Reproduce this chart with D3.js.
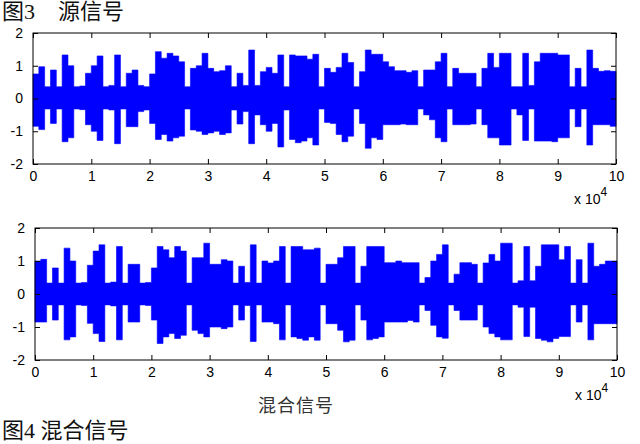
<!DOCTYPE html>
<html>
<head>
<meta charset="utf-8">
<title>源信号 / 混合信号</title>
<script src="https://d3js.org/d3.v7.min.js"></script>
<style>
	body{
		margin:0;
		background-color:#fff;
	}
	.tick text{
		font-family:"Liberation Sans Narrow","Liberation Sans",sans-serif;
		font-size:14px;
		fill:#000;
	}
	.tick line{
		stroke:#000;
	}
	.caption{
		font-family:"Liberation Serif","Noto Sans CJK SC",serif;
		font-size:22px;
		fill:#111;
	}
	.scale{
		font-family:"Liberation Sans Narrow","Liberation Sans",sans-serif;
		font-size:14px;
	}
</style>
</head>
<body>
<div class="screen"></div>
<script>

//DATA (envelope of each signal, one value per 1000 samples)

var xTicks = [0,10000,20000,30000,40000,50000,60000,70000,80000,90000,100000];
var xTickLabels = ["0","1","2","3","4","5","6","7","8","9","10"];
var yTicks = [-2,-1,0,1,2];
var yTickLabels = ["-2","-1","0","1","2"];

var sourceUpper = [0.75,0.97,0.36,0.87,0.36,1.33,1.0,0.36,0.38,0.77,
	1.0,1.3,0.36,0.4,1.33,0.36,0.77,0.87,0.4,0.36,
	0.75,1.43,1.23,1.38,1.3,1.12,0.36,0.92,1.0,1.38,
	0.92,0.82,0.85,1.0,0.36,0.77,0.4,1.48,0.4,0.82,
	0.95,0.77,1.33,0.36,1.33,1.3,1.3,1.2,1.35,0.36,
	0.92,0.8,0.95,1.38,1.1,0.36,0.82,1.48,1.35,1.35,
	1.12,0.97,0.85,0.85,0.8,0.85,0.36,0.87,0.87,1.12,
	1.38,0.36,0.92,0.77,0.77,0.77,0.36,0.92,1.38,0.95,
	1.38,1.38,0.36,0.36,1.38,0.4,1.12,1.38,1.38,1.38,
	1.33,1.33,0.36,0.92,0.36,1.48,0.92,0.83,0.85,0.83];

var sourceLower = [-0.85,-0.95,-0.32,-0.76,-0.32,-1.32,-1.2,-0.32,-0.34,-0.8,
	-1.0,-1.28,-0.32,-0.35,-1.38,-0.32,-0.86,-0.86,-0.4,-0.35,
	-0.76,-1.25,-1.1,-1.3,-1.2,-1.15,-0.32,-0.96,-1.0,-1.1,
	-1.05,-1.0,-1.1,-1.05,-0.35,-0.78,-0.4,-1.38,-0.5,-0.8,
	-1.0,-0.76,-1.48,-0.35,-1.25,-1.35,-1.3,-1.2,-1.42,-0.32,
	-0.73,-0.76,-1.1,-1.32,-1.15,-0.32,-0.76,-1.52,-1.2,-1.25,
	-0.8,-0.8,-0.8,-0.78,-0.8,-0.8,-0.32,-0.5,-0.65,-1.2,
	-1.32,-0.32,-0.8,-0.8,-0.8,-0.78,-0.32,-0.8,-1.2,-1.2,
	-1.42,-1.42,-0.32,-0.5,-1.28,-0.32,-1.3,-1.3,-1.3,-1.32,
	-1.2,-1.2,-0.32,-0.86,-0.32,-1.42,-0.8,-0.8,-0.8,-0.85];

var mixedUpper = [1.0,1.05,0.33,0.79,0.33,1.39,1.0,0.33,0.35,0.87,
	1.3,1.49,0.33,0.36,1.44,0.33,0.9,0.9,0.33,0.35,
	0.79,1.44,1.34,1.1,1.44,1.3,0.33,1.1,1.1,1.54,
	0.9,0.9,1.04,1.0,0.33,0.84,0.35,1.49,0.33,1.0,
	0.94,1.0,1.44,0.33,1.44,1.44,1.34,1.34,1.39,0.33,
	0.9,0.9,1.1,1.44,1.44,0.33,0.84,1.44,1.44,1.44,
	0.95,0.95,1.0,0.95,0.95,0.95,0.33,0.5,1.0,1.2,
	1.49,0.33,0.6,0.95,0.95,0.9,0.33,0.94,1.2,1.0,
	1.54,1.54,0.33,0.4,1.44,0.4,0.84,1.49,1.49,1.49,
	1.04,1.44,0.33,1.04,0.33,1.54,0.84,0.9,1.0,1.0];

var mixedLower = [-0.85,-0.85,-0.33,-0.79,-0.33,-1.39,-1.3,-0.33,-0.35,-0.89,
	-1.2,-1.44,-0.33,-0.36,-1.39,-0.33,-0.85,-0.85,-0.33,-0.35,
	-0.79,-1.5,-1.3,-1.2,-1.35,-1.25,-0.33,-1.1,-1.2,-1.3,
	-1.0,-1.0,-1.05,-1.0,-0.33,-0.79,-0.35,-1.44,-0.33,-0.85,
	-0.85,-0.9,-1.39,-0.33,-1.3,-1.35,-1.4,-1.3,-1.4,-0.33,
	-0.9,-0.9,-1.1,-1.45,-1.4,-0.33,-0.79,-1.39,-1.35,-1.3,
	-0.85,-0.85,-0.85,-0.85,-0.8,-0.85,-0.33,-0.5,-0.95,-1.3,
	-1.34,-0.33,-0.5,-0.79,-0.79,-0.79,-0.33,-1.0,-1.2,-1.3,
	-1.39,-1.39,-0.33,-0.4,-1.29,-0.4,-1.35,-1.4,-1.45,-1.35,
	-1.29,-1.29,-0.33,-0.85,-0.33,-1.39,-0.9,-0.9,-0.9,-0.9];

var step = 1000;

//SETUP

var width = 640;
var height = 444;

var svg = d3.select(".screen")
	.append("svg")
	.attr("width", width)
	.attr("height", height);

//PANEL DRAWING

function drawPanel(box, upper, lower) {
	var x = d3.scaleLinear().domain([0,100000]).range([box.left, box.right]);
	var y = d3.scaleLinear().domain([-2,2]).range([box.bottom, box.top]);

	var g = svg.append("g");

	var pts = upper.map(function(u,i){ return {i:i, u:u, l:lower[i]}; });
	pts.push({i:upper.length, u:upper[upper.length-1], l:lower[lower.length-1]});

	var area = d3.area()
		.curve(d3.curveStepAfter)
		.x(function(d){ return x(d.i*step); })
		.y0(function(d){ return y(d.l); })
		.y1(function(d){ return y(d.u); });

	g.append("path")
		.datum(pts)
		.attr("fill", "#0000ff")
		.attr("stroke", "#0000ff")
		.attr("stroke-width", 0.6)
		.attr("d", area);

	g.append("g")
		.attr("transform", "translate(0," + box.bottom + ")")
		.call(d3.axisBottom(x).tickValues(xTicks)
			.tickFormat(function(d,i){ return xTickLabels[i]; })
			.tickSize(-5).tickPadding(7));

	g.append("g")
		.attr("transform", "translate(0," + box.top + ")")
		.call(d3.axisTop(x).tickValues(xTicks).tickFormat("").tickSize(-5));

	g.append("g")
		.attr("transform", "translate(" + box.left + ",0)")
		.call(d3.axisLeft(y).tickValues(yTicks)
			.tickFormat(function(d,i){ return yTickLabels[i]; })
			.tickSize(-5).tickPadding(10));

	g.append("g")
		.attr("transform", "translate(" + box.right + ",0)")
		.call(d3.axisRight(y).tickValues(yTicks).tickFormat("").tickSize(-5));

	g.selectAll(".domain").remove();

	g.append("rect")
		.attr("x", box.left)
		.attr("y", box.top)
		.attr("width", box.right - box.left)
		.attr("height", box.bottom - box.top)
		.attr("fill", "none")
		.attr("stroke", "#000")
		.attr("stroke-width", 1);

	//x 10^4 multiplier
	var sc = g.append("text")
		.attr("class", "scale")
		.attr("x", box.right - 42)
		.attr("y", box.bottom + 40);
	sc.append("tspan").text("x 10");
	sc.append("tspan").attr("dy", -8).attr("font-size", "12px").text("4");
}

drawPanel({left:33, right:616, top:33, bottom:164}, sourceUpper, sourceLower);
drawPanel({left:35, right:617, top:228, bottom:360}, mixedUpper, mixedLower);

//CAPTIONS

svg.append("text")
	.attr("class", "caption")
	.attr("x", 2)
	.attr("y", 19)
	.text("图3");
svg.append("text")
	.attr("class", "caption")
	.attr("x", 58)
	.attr("y", 19)
	.text("源信号");

svg.append("text")
	.attr("x", 258)
	.attr("y", 412)
	.attr("font-family", "'Noto Sans CJK SC', sans-serif")
	.attr("font-size", "18px")
	.attr("letter-spacing", "1px")
	.attr("fill", "#333")
	.text("混合信号");

svg.append("text")
	.attr("class", "caption")
	.attr("x", 2)
	.attr("y", 438)
	.text("图4 混合信号");

</script>
</body>
</html>
